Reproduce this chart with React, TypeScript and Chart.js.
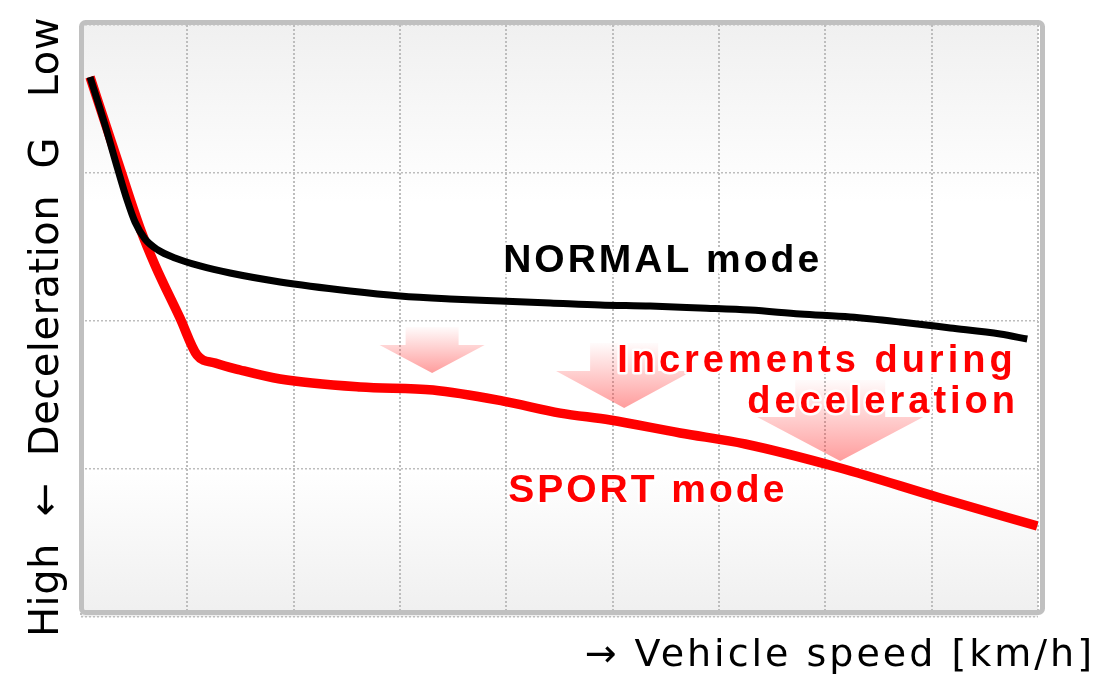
import React, { useEffect, useRef } from "react";
import { Chart, registerables } from "chart.js";
Chart.register(...registerables);

// NORMAL mode curve (x: speed grid units, y: deceleration G grid units, up = low)
const normalX = [0.085, 0.226, 0.348, 0.433, 0.508, 0.602, 0.724, 0.884, 1.119, 1.402, 1.872, 2.531, 3.001, 3.471, 3.942, 4.412, 4.882, 5.353, 5.823, 6.294, 6.764, 7.234, 7.705, 8.175, 8.645, 8.899];
const normalY = [3.649, 3.324, 3.02, 2.818, 2.669, 2.554, 2.48, 2.426, 2.372, 2.324, 2.264, 2.203, 2.169, 2.149, 2.135, 2.122, 2.108, 2.101, 2.088, 2.074, 2.047, 2.027, 1.993, 1.953, 1.912, 1.878];

// SPORT mode curve
const sportX = [0.085, 0.348, 0.555, 0.696, 0.931, 1.091, 1.261, 1.496, 1.872, 2.625, 3.311, 3.97, 4.506, 4.977, 5.635, 6.246, 7.14, 8.081, 8.993];
const sportY = [3.649, 3.074, 2.628, 2.378, 2.02, 1.77, 1.716, 1.669, 1.608, 1.554, 1.534, 1.459, 1.378, 1.331, 1.243, 1.169, 1.007, 0.804, 0.615];

// Axis ranges / gridlines
const xMin = 0, xMax = 9;
const yMin = 0, yMax = 4;

// Increment arrows (data units)
const arrowTipX = [3.302, 5.108, 7.14];
const arrowTipY = [1.649, 1.412, 1.054];
const arrowHeadTopY = [1.838, 1.662, 1.351];
const arrowShaftTopY = [1.96, 1.851, 1.601];
const arrowHeadHalfW = [0.494, 0.64, 0.781];
const arrowShaftHalfW = [0.249, 0.32, 0.423];

// Annotation labels
const labelTexts = ["NORMAL mode", "Increments during", "deceleration", "SPORT mode"];
const labelX = [3.97, 5.042, 6.265, 4.017];
const labelY = [2.331, 1.655, 1.378, 0.777];
const labelColors = ["#000000", "#ff0000", "#ff0000", "#ff0000"];
const labelSizes = [39, 38, 38, 39];
const labelSpacing = [3, 4, 4, 3];

const yTitle = "High  \u2190  Deceleration  G   Low";
const xTitle = "\u2192 Vehicle speed [km/h]";

const decorPlugin = {
  id: "decor",
  beforeDraw(chart: any) {
    const { ctx, chartArea: a } = chart;
    ctx.save();
    const g = ctx.createLinearGradient(0, a.top, 0, a.bottom);
    g.addColorStop(0, "#f0f0f0");
    g.addColorStop(0.3, "#ffffff");
    g.addColorStop(0.75, "#ffffff");
    g.addColorStop(1, "#efefef");
    ctx.fillStyle = g;
    ctx.fillRect(a.left, a.top, a.right - a.left, a.bottom - a.top);
    ctx.restore();
  },
  beforeDatasetsDraw(chart: any) {
    const { ctx } = chart;
    const xs = chart.scales.x, ys = chart.scales.y;
    ctx.save();
    for (let i = 0; i < arrowTipX.length; i++) {
      const cx = xs.getPixelForValue(arrowTipX[i]);
      const tip = ys.getPixelForValue(arrowTipY[i]);
      const headTop = ys.getPixelForValue(arrowHeadTopY[i]);
      const shaftTop = ys.getPixelForValue(arrowShaftTopY[i]);
      const hw = xs.getPixelForValue(arrowTipX[i] + arrowHeadHalfW[i]) - cx;
      const sw = xs.getPixelForValue(arrowTipX[i] + arrowShaftHalfW[i]) - cx;
      const g = ctx.createLinearGradient(0, shaftTop, 0, tip);
      g.addColorStop(0, "rgba(255,60,60,0.02)");
      g.addColorStop(1, "rgba(255,60,60,0.5)");
      ctx.fillStyle = g;
      ctx.beginPath();
      ctx.moveTo(cx - sw, shaftTop);
      ctx.lineTo(cx + sw, shaftTop);
      ctx.lineTo(cx + sw, headTop);
      ctx.lineTo(cx + hw, headTop);
      ctx.lineTo(cx, tip);
      ctx.lineTo(cx - hw, headTop);
      ctx.lineTo(cx - sw, headTop);
      ctx.closePath();
      ctx.fill();
    }
    ctx.restore();
  },
  afterDatasetsDraw(chart: any) {
    const { ctx, chartArea: a } = chart;
    const xs = chart.scales.x, ys = chart.scales.y;
    ctx.save();
    // frame
    ctx.strokeStyle = "#c0c0c0";
    ctx.lineWidth = 5;
    ctx.beginPath();
    (ctx as any).roundRect(a.left + 0.5, a.top - 2.5, a.right - a.left + 4, a.bottom - a.top - 2, 4);
    ctx.stroke();

    // labels
    ctx.textAlign = "left";
    ctx.textBaseline = "alphabetic";
    for (let i = 0; i < labelTexts.length; i++) {
      ctx.font = `bold ${labelSizes[i]}px "Liberation Sans", Arial, sans-serif`;
      (ctx as any).letterSpacing = `${labelSpacing[i]}px`;
      const px = xs.getPixelForValue(labelX[i]);
      const py = ys.getPixelForValue(labelY[i]);
      ctx.lineJoin = "round";
      ctx.strokeStyle = "rgba(255,255,255,0.95)";
      ctx.lineWidth = 5;
      ctx.strokeText(labelTexts[i], px, py);
      ctx.fillStyle = labelColors[i];
      ctx.fillText(labelTexts[i], px, py);
    }

    // axis titles
    ctx.fillStyle = "#000000";
    ctx.font = `40px "DejaVu Sans", sans-serif`;
    (ctx as any).letterSpacing = "0.5px";
    ctx.save();
    ctx.translate(58, (a.top + a.bottom) / 2 + 6);
    ctx.rotate(-Math.PI / 2);
    ctx.textAlign = "center";
    ctx.fillText(yTitle, 0, 0);
    ctx.restore();

    ctx.font = `38px "DejaVu Sans", sans-serif`;
    (ctx as any).letterSpacing = "3px";
    ctx.textAlign = "right";
    ctx.fillText(xTitle, 1095, 666);
    ctx.restore();
  },
};

export default function App() {
  const ref = useRef<HTMLCanvasElement | null>(null);
  useEffect(() => {
    document.body.style.margin = "0";
    const canvas = ref.current;
    if (!canvas) return;
    const chart = new Chart(canvas, {
      type: "line",
      data: {
        datasets: [
          {
            label: "NORMAL mode",
            data: normalX.map((x, i) => ({ x, y: normalY[i] })),
            borderColor: "#000000",
            borderWidth: 7,
            pointRadius: 0,
            cubicInterpolationMode: "monotone",
            borderCapStyle: "butt",
            fill: false,
          },
          {
            label: "SPORT mode",
            data: sportX.map((x, i) => ({ x, y: sportY[i] })),
            borderColor: "#ff0000",
            borderWidth: 9.5,
            pointRadius: 0,
            cubicInterpolationMode: "monotone",
            borderCapStyle: "butt",
            fill: false,
          },
        ],
      },
      options: {
        responsive: false,
        animation: false,
        layout: { padding: { left: 81, right: 79, top: 25, bottom: 60 } },
        plugins: { legend: { display: false }, tooltip: { enabled: false } },
        scales: {
          x: {
            type: "linear",
            min: xMin,
            max: xMax,
            ticks: { display: false, stepSize: 1 },
            grid: { color: "#bdbdbd", lineWidth: 2, drawTicks: false },
            border: { display: false, dash: [2, 2] },
          },
          y: {
            type: "linear",
            min: yMin,
            max: yMax,
            ticks: { display: false, stepSize: 1 },
            grid: { color: "#bdbdbd", lineWidth: 1.5, drawTicks: false },
            border: { display: false, dash: [2, 2] },
          },
        },
      },
      plugins: [decorPlugin],
    });
    return () => chart.destroy();
  }, []);
  return <canvas ref={ref} width={1117} height={677} style={{ display: "block" }} />;
}
